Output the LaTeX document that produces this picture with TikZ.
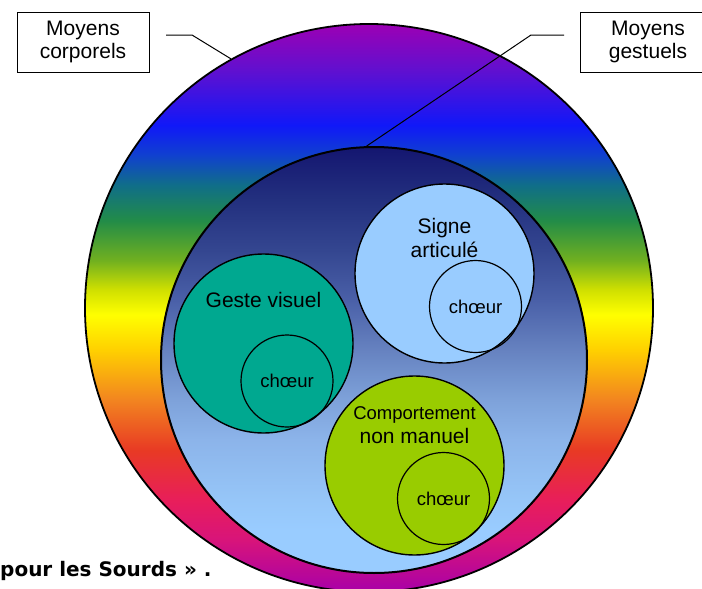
\documentclass[tikz,border=0pt]{standalone}
\usepackage{fontspec}
\setmainfont{Liberation Sans}
\newfontfamily\captionfont{DejaVu Sans}
\usepackage{xcolor}
\usepackage{tikz}
\usetikzlibrary{positioning}

\definecolor{gestecol}{HTML}{00A890}
\definecolor{signecol}{HTML}{99CCFF}
\definecolor{comportcol}{HTML}{99CC00}

\pgfdeclareverticalshading{rainbowshade}{100bp}{
  color(0bp)=(rgb,255:red,168;green,0;blue,168);
  color(25bp)=(rgb,255:red,168;green,0;blue,168);
  color(29.6bp)=(rgb,255:red,216;green,20;blue,122);
  color(33.1bp)=(rgb,255:red,232;green,30;blue,90);
  color(37.5bp)=(rgb,255:red,232;green,58;blue,36);
  color(41.9bp)=(rgb,255:red,242;green,132;blue,32);
  color(46.3bp)=(rgb,255:red,255;green,208;blue,0);
  color(49.4bp)=(rgb,255:red,255;green,255;blue,0);
  color(51.6bp)=(rgb,255:red,208;green,224;blue,0);
  color(54.2bp)=(rgb,255:red,112;green,176;blue,32);
  color(57.7bp)=(rgb,255:red,34;green,140;blue,72);
  color(60.8bp)=(rgb,255:red,16;green,110;blue,136);
  color(63.5bp)=(rgb,255:red,16;green,64;blue,208);
  color(66.1bp)=(rgb,255:red,16;green,24;blue,248);
  color(70.9bp)=(rgb,255:red,96;green,16;blue,208);
  color(75bp)=(rgb,255:red,156;green,0;blue,180);
  color(100bp)=(rgb,255:red,156;green,0;blue,180)
}

\pgfdeclareverticalshading{gesturalshade}{100bp}{
  color(0bp)=(rgb,255:red,153;green,204;blue,255);
  color(30bp)=(rgb,255:red,153;green,204;blue,255);
  color(33.6bp)=(rgb,255:red,150;green,198;blue,248);
  color(40.6bp)=(rgb,255:red,140;green,180;blue,234);
  color(45.3bp)=(rgb,255:red,126;green,162;blue,218);
  color(51.2bp)=(rgb,255:red,102;green,130;blue,192);
  color(57bp)=(rgb,255:red,74;green,96;blue,168);
  color(62.9bp)=(rgb,255:red,52;green,70;blue,144);
  color(68.8bp)=(rgb,255:red,35;green,48;blue,127);
  color(75bp)=(rgb,255:red,20;green,22;blue,112);
  color(100bp)=(rgb,255:red,20;green,22;blue,112)
}

\begin{document}
\begin{tikzpicture}[
  x=1pt, y=-1pt,
  every node/.style={align=center, inner sep=0pt},
  disc/.style={circle, draw, line width=1.4pt, minimum size=179pt},
  chorus/.style={circle, draw, line width=1.2pt, minimum size=92pt,
    font=\fontsize{18.5}{20}\selectfont},
  lbl/.style={font=\fontsize{21}{24}\selectfont},
  boxlbl/.style={draw, line width=1pt, fill=white, minimum width=132pt,
    minimum height=60pt, font=\fontsize{21}{23}\selectfont},
  leader/.style={line width=1pt}
]

\clip (0,0) rectangle (702,589);

\node[circle, draw, line width=1.8pt, minimum size=568pt, shading=rainbowshade] (corps) at (369,308) {};
\node[circle, draw, line width=2pt, minimum size=426pt, shading=gesturalshade] (gestes) at (374,360) {};

\node[disc, fill=gestecol] (geste) at (263.5,343.5) {};
\node[lbl] (gesteLbl) at ([yshift=43.5pt]geste.center) {Geste visuel};
\node[chorus] (gesteChoeur) at (287,381) {chœur};

\node[disc, fill=signecol] (signe) at (444.5,273.5) {};
\node[lbl] (signeLbl) at ([yshift=35.5pt]signe.center) {Signe\\articulé};
\node[chorus] (signeChoeur) at (475.5,306.5) {chœur};

\node[disc, fill=comportcol] (comport) at (414.5,465.5) {};
\node[lbl] (comportLbl) at ([yshift=40pt]comport.center)
  {{\fontsize{18.5}{23}\selectfont Comportement}\\non manuel};
\node[chorus] (comportChoeur) at (443.5,498.5) {chœur};

\node[boxlbl] (corpsLbl) at (83,42) {Moyens\\corporels};
\node[boxlbl, minimum width=136pt] (gestesLbl) at (648,42) {Moyens\\gestuels};

\coordinate (corpsStart) at (166,35);
\coordinate (corpsBend) at (192,35);
\coordinate (gestesStart) at (564,35);
\coordinate (gestesBend) at (531,35);
\draw[leader] (corpsStart) -- (corpsBend) -- (corps.119);
\draw[leader] (gestesStart) -- (gestesBend) -- (gestes.92.5);

\node[anchor=base west, font=\captionfont\bfseries\fontsize{20}{24}\selectfont] (caption)
  at (0,576) {pour les Sourds » .};

\end{tikzpicture}
\end{document}
